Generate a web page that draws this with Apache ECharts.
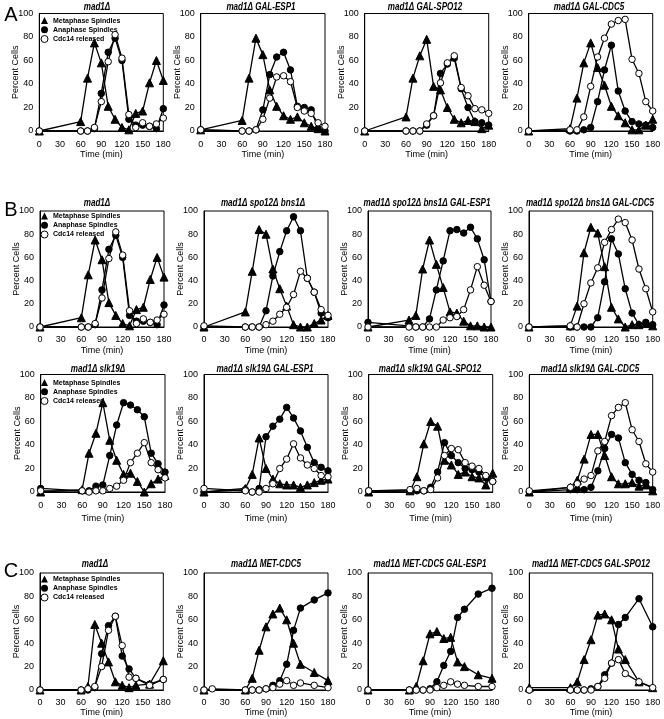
<!DOCTYPE html>
<html><head><meta charset="utf-8">
<script src="https://cdn.jsdelivr.net/npm/echarts@6/dist/echarts.min.js"></script>
<style>html,body{margin:0;padding:0;background:#fff}#c{width:664px;height:719px}</style>
</head><body><div id="c"></div>
<script>
// ---------- DATA ----------
const seriesNames = ['Metaphase Spindles', 'Anaphase Spindles', 'Cdc14 released'];
const xTickStep = 30;   // ticks 0,30,...,180
const yTickStep = 20;   // ticks 0,20,...,100
const xName = 'Time (min)';
const yName = 'Percent Cells';
const panelLetters = ['A', 'B', 'C'];

const timesStd = [0, 60, 70, 80, 90, 100, 110, 120, 130, 140, 150, 160, 170, 180];
const timesC = [0, 60, 70, 80, 90, 100, 110, 120, 130, 140, 160, 180];
const timesC2 = [0, 12, 60, 70, 80, 90, 100, 110, 120, 130, 140, 160, 180];

const panelTitles = [
  'mad1Δ', 'mad1Δ GAL-ESP1', 'mad1Δ GAL-SPO12', 'mad1Δ GAL-CDC5',
  'mad1Δ', 'mad1Δ spo12Δ bns1Δ', 'mad1Δ spo12Δ bns1Δ GAL-ESP1', 'mad1Δ spo12Δ bns1Δ GAL-CDC5',
  'mad1Δ slk19Δ', 'mad1Δ slk19Δ GAL-ESP1', 'mad1Δ slk19Δ GAL-SPO12', 'mad1Δ slk19Δ GAL-CDC5',
  'mad1Δ', 'mad1Δ MET-CDC5', 'mad1Δ MET-CDC5 GAL-ESP1', 'mad1Δ MET-CDC5 GAL-SPO12'
];

// mad1Δ (A and B)
const mad1Meta = [0, 8, 45, 75, 58, 21, 10, 3, 1, 15, 17, 41, 60, 43];
const mad1Ana  = [0, 0, 0, 2, 32, 67, 79, 60, 10, 5, 5, 4, 2, 19];
const mad1Cdc  = [0, 0, 0, 3, 25, 59, 82, 62, 14, 3, 7, 4, 6, 11];
// mad1Δ GAL-ESP1
const espMeta = [1, 9, 45, 79, 65, 35, 21, 13, 10, 12, 7, 4, 2, 0];
const espAna  = [1, 0, 0, 1, 18, 48, 63, 67, 52, 21, 20, 18, 2, 0];
const espCdc  = [1, 0, 0, 1, 10, 28, 46, 47, 42, 20, 17, 15, 7, 4];
// mad1Δ GAL-SPO12
const spoMeta = [0, 12, 45, 64, 78, 38, 35, 20, 10, 7, 9, 8, 2, 5];
const spoAna  = [0, 0, 0, 0, 5, 13, 49, 57, 62, 36, 20, 8, 7, 5];
const spoCdc  = [0, 0, 0, 0, 6, 13, 41, 58, 64, 37, 30, 19, 18, 15];
// mad1Δ GAL-CDC5
const cdcMeta = [0, 2, 28, 58, 75, 54, 39, 21, 13, 7, 1, 1, 5, 10];
const cdcAna  = [0, 0, 0, 1, 3, 25, 52, 73, 34, 17, 8, 6, 5, 3];
const cdcCdc  = [0, 1, 1, 12, 38, 63, 79, 91, 94, 95, 61, 49, 25, 17];
// mad1Δ spo12Δ bns1Δ
const sbMeta = [0, 13, 48, 84, 80, 50, 33, 18, 2, 0, 0, 3, 6, 10];
const sbAna  = [0, 0, 0, 0, 14, 44, 65, 83, 95, 83, 42, 30, 12, 8];
const sbCdc  = [1, 0, 0, 0, 2, 5, 11, 17, 28, 48, 42, 30, 15, 10];
// mad1Δ spo12Δ bns1Δ GAL-ESP1
const sbEspMeta = [0, 6, 10, 50, 75, 54, 34, 13, 12, 5, 1, 1, 0, 0];
const sbEspAna  = [4, 1, 0, 0, 7, 32, 57, 83, 84, 81, 86, 76, 58, 22];
const sbEspCdc  = [0, 0, 0, 0, 0, 0, 6, 8, 9, 15, 32, 52, 36, 22];
// mad1Δ spo12Δ bns1Δ GAL-CDC5
const sbCdcMeta = [0, 1, 18, 64, 86, 81, 52, 17, 7, 0, 2, 2, 3, 1];
const sbCdcAna  = [0, 0, 0, 0, 0, 8, 39, 76, 63, 33, 12, 2, 4, 2];
const sbCdcCdc  = [0, 1, 0, 20, 38, 51, 73, 84, 93, 90, 75, 50, 33, 13];
// mad1Δ slk19Δ
const slkMeta = [0, 2, 33, 50, 76, 44, 27, 15, 16, 9, 0, 7, 11, 14];
const slkAna  = [3, 1, 1, 5, 6, 31, 57, 76, 74, 70, 64, 33, 24, 17];
const slkCdc  = [1, 1, 0, 1, 1, 3, 5, 10, 25, 33, 42, 25, 19, 12];
// mad1Δ slk19Δ GAL-ESP1
const slkEspMeta = [0, 3, 15, 46, 20, 11, 7, 6, 6, 4, 6, 8, 10, 11];
const slkEspAna  = [0, 2, 0, 3, 47, 56, 62, 72, 63, 52, 38, 25, 21, 18];
const slkEspCdc  = [3, 1, 0, 0, 3, 7, 20, 28, 41, 29, 23, 20, 14, 13];
// mad1Δ slk19Δ GAL-SPO12
const slkSpoMeta = [0, 1, 13, 41, 60, 56, 27, 23, 15, 17, 13, 12, 6, 16];
const slkSpoAna  = [1, 1, 1, 1, 4, 17, 42, 31, 25, 20, 19, 17, 12, 9];
const slkSpoCdc  = [1, 2, 3, 1, 2, 12, 31, 37, 36, 25, 22, 20, 14, 9];
// mad1Δ slk19Δ GAL-CDC5
const slkCdcMeta = [0, 4, 10, 28, 49, 49, 31, 13, 7, 7, 8, 5, 6, 1];
const slkCdcAna  = [0, 2, 2, 2, 4, 18, 37, 49, 46, 25, 15, 10, 8, 2];
const slkCdcCdc  = [1, 4, 7, 11, 14, 35, 43, 65, 72, 76, 53, 43, 24, 17];
// C: mad1Δ
const cMad1Meta = [0, 0, 3, 56, 40, 24, 7, 4, 2, 4, 5, 25];
const cMad1Ana  = [0, 0, 0, 2, 31, 55, 63, 29, 18, 10, 5, 9];
const cMad1Cdc  = [0, 0, 1, 3, 20, 51, 63, 38, 11, 10, 4, 9];
// mad1Δ MET-CDC5
const metMeta = [0, null, 0, 10, 34, 54, 65, 70, 60, 40, 22, 15, 8];
const metAna  = [0, null, 0, 0, 0, 1, 4, 8, 22, 51, 70, 77, 83];
const metCdc  = [0, 1, 0, 0, 0, 1, 2, 5, 8, 4, 6, 4, 2];
// mad1Δ MET-CDC5 GAL-ESP1
const metEspMeta = [0, 0, 3, 25, 48, 50, 44, 45, 24, 20, 13, 10];
const metEspAna  = [0, 0, 0, 0, 1, 7, 21, 33, 62, 69, 82, 87];
const metEspCdc  = [0, 0, 0, 0, 0, 2, 4, 7, 5, 4, 3, 3];
// mad1Δ MET-CDC5 GAL-SPO12
const metSpoMeta = [2, 2, 7, 26, 43, 64, 65, 60, 35, 26, 7, 2];
const metSpoAna  = [0, 0, 0, 0, 1, 3, 13, 23, 56, 62, 78, 54];
const metSpoCdc  = [0, 0, 0, 0, 0, 3, 10, 23, 26, 14, 7, 2];

const panels = [
  [timesStd, mad1Meta, mad1Ana, mad1Cdc], [timesStd, espMeta, espAna, espCdc],
  [timesStd, spoMeta, spoAna, spoCdc], [timesStd, cdcMeta, cdcAna, cdcCdc],
  [timesStd, mad1Meta, mad1Ana, mad1Cdc], [timesStd, sbMeta, sbAna, sbCdc],
  [timesStd, sbEspMeta, sbEspAna, sbEspCdc], [timesStd, sbCdcMeta, sbCdcAna, sbCdcCdc],
  [timesStd, slkMeta, slkAna, slkCdc], [timesStd, slkEspMeta, slkEspAna, slkEspCdc],
  [timesStd, slkSpoMeta, slkSpoAna, slkSpoCdc], [timesStd, slkCdcMeta, slkCdcAna, slkCdcCdc],
  [timesC, cMad1Meta, cMad1Ana, cMad1Cdc], [timesC2, metMeta, metAna, metCdc],
  [timesC, metEspMeta, metEspAna, metEspCdc], [timesC, metSpoMeta, metSpoAna, metSpoCdc]
];

// ---------- LAYOUT ----------
const FONT = '"Liberation Sans Narrow", "Liberation Sans", Arial, sans-serif';
const rowTop = [13.5, 211, 374.5, 573];
const rowBottom = [131, 327, 492, 690];
const colLeft = [
  [39.3, 200.7, 364.7, 528.7],
  [40, 204, 368, 529],
  [40.7, 204, 368.7, 529.3],
  [40, 204, 368, 529.3]
];
const colRight = [
  [163.3, 325, 488.7, 652.7],
  [164, 328, 491, 652.7],
  [165, 328, 492.7, 652.7],
  [163.3, 328, 492, 652.7]
];
const titleY = [7, 203, 369.5, 564.5];
const titleX = [
  [97, 261, 425, 589],
  [97, 263, 427, 590],
  [98, 265, 430, 590],
  [95, 266, 430, 591]
];
const xLabelMargin = [9, 8.5, 9, 8];
const xNameGap = [19, 19, 22, 18];
const legendRows = [0, 1, 2, 3];
const legendTop = [16, 211.5, 378, 574.5];
const letterRows = [0, 1, 3];
const letterY = [15, 210, 571];

const grid = [], xAxis = [], yAxis = [], series = [], graphic = [], legend = [];
const symbols = ['triangle', 'circle', 'circle'];
const sizes = [8, 6.5, 6.5];
const fills = ['#000', '#000', '#fff'];

for (let i = 0; i < 16; i++) {
  const r = Math.floor(i / 4), c = i % 4;
  const left = colLeft[r][c], right = colRight[r][c];
  grid.push({
    left: left, top: rowTop[r], width: right - left, height: rowBottom[r] - rowTop[r],
    show: true, borderColor: '#000', borderWidth: 1, backgroundColor: 'transparent'
  });
  xAxis.push({
    gridIndex: i, type: 'value', min: 0, max: 180, interval: xTickStep,
    axisLine: { show: true, lineStyle: { color: '#000', width: 1 } },
    axisTick: { show: false }, splitLine: { show: false },
    axisLabel: { color: '#000', fontSize: 9, fontFamily: FONT, margin: xLabelMargin[r] },
    name: xName, nameLocation: 'middle', nameGap: xNameGap[r], nameMoveOverlap: false,
    nameTextStyle: { color: '#000', fontSize: 9, fontFamily: FONT }
  });
  yAxis.push({
    gridIndex: i, type: 'value', min: 0, max: 100, interval: yTickStep,
    axisLine: { show: true, lineStyle: { color: '#000', width: 1 } },
    axisTick: { show: false }, splitLine: { show: false },
    axisLabel: { color: '#000', fontSize: 9, fontFamily: FONT, margin: 6 },
    name: yName, nameLocation: 'middle', nameGap: 19, nameMoveOverlap: false,
    nameTextStyle: { color: '#000', fontSize: 9, fontFamily: FONT }
  });
  const p = panels[i];
  for (let s = 0; s < 3; s++) {
    series.push({
      type: 'line', name: seriesNames[s], xAxisIndex: i, yAxisIndex: i,
      data: p[0].map((t, k) => [t, p[s + 1][k]]),
      connectNulls: true, clip: false,
      symbol: symbols[s], symbolSize: sizes[s], showAllSymbol: true,
      lineStyle: { color: '#000', width: 1.3 },
      itemStyle: { color: fills[s], borderColor: '#000', borderWidth: 1 },
      emphasis: { disabled: true }, z: 2 + s
    });
  }
  graphic.push({
    type: 'text', x: titleX[r][c], y: titleY[r], scaleX: 0.77, scaleY: 1,
    style: { text: panelTitles[i], font: 'italic bold 10.5px ' + FONT, fill: '#000', align: 'center', verticalAlign: 'middle' }
  });
}

legendRows.forEach((r, k) => {
  legend.push({
    orient: 'vertical', left: 40.5, top: legendTop[k], padding: 0,
    itemWidth: 7, itemHeight: 7, itemGap: 0, selectedMode: false,
    textStyle: { fontSize: 7, fontWeight: 'bold', fontFamily: FONT, color: '#000', lineHeight: 9.2 },
    data: [
      { name: seriesNames[0], icon: 'triangle', itemStyle: { color: '#000', borderWidth: 0 } },
      { name: seriesNames[1], icon: 'circle', itemStyle: { color: '#000', borderWidth: 0 } },
      { name: seriesNames[2], icon: 'circle', itemStyle: { color: '#fff', borderColor: '#000', borderWidth: 1 } }
    ]
  });
});

letterRows.forEach((r, k) => {
  graphic.push({
    type: 'text', x: 11, y: letterY[k],
    style: { text: panelLetters[k], font: '20px "Liberation Sans", Arial, sans-serif', fill: '#000', align: 'center', verticalAlign: 'middle' }
  });
});

const chart = echarts.init(document.getElementById('c'), null, { renderer: 'canvas' });
chart.setOption({
  backgroundColor: '#fff', animation: false,
  grid, xAxis, yAxis, series, legend, graphic
});
</script>
</body></html>
